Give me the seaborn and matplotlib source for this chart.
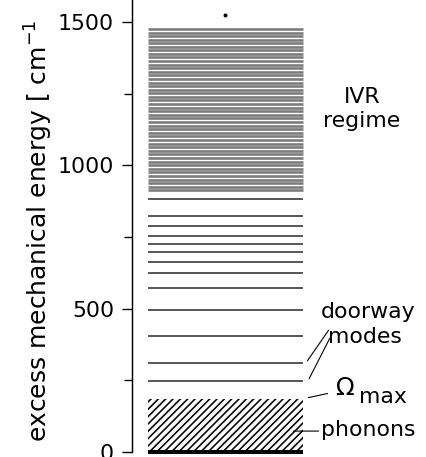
import numpy as np
import pandas as pd
import matplotlib
matplotlib.use("Agg")
import matplotlib.pyplot as plt
import seaborn as sns

# ---- level scheme data (energies in cm^-1) ----
ground_level = [0]
omega_max = 186                      # top of the phonon band
doorway_levels = [248, 311]
discrete_levels = [406, 497, 573, 626, 664, 696, 727, 755, 787, 825, 881]
ivr_levels = [1476, 1463, 1451, 1439, 1427, 1414, 1401, 1389, 1377, 1364,
              1351, 1339, 1327, 1314, 1302, 1289, 1276, 1264, 1252, 1239,
              1227, 1214, 1201, 1189, 1177, 1164, 1151, 1139, 1126, 1114,
              1101, 1089, 1076, 1063, 1051, 1039, 1026, 1013, 1001, 988,
              976, 963, 950, 938, 926, 914]
stray_point = [1524]

major_ticks = [0, 500, 1000, 1500]
major_labels = ["0", "500", "1000", "1500"]
minor_ticks = [250, 750, 1250]

# ---- figure setup ----
DPI = 88
W, H = 426, 457
sns.set_theme(style="white")
plt.rcParams["font.family"] = ["DejaVu Sans"]
plt.rcParams["hatch.linewidth"] = 1.3
plt.rcParams["text.color"] = "black"
plt.rcParams["ytick.color"] = "black"
plt.rcParams["axes.labelcolor"] = "black"

fig = plt.figure(figsize=(W / DPI, H / DPI), dpi=DPI)
ax = fig.add_axes([132 / W, 0, (W - 132) / W, 1])
ax.set_xlim(0, W - 132)
ax.set_ylim(-17.4, 1576.8)

bar_left, bar_right = 16, 171


def level_frame(levels):
    rows = []
    for i, e in enumerate(levels):
        rows.append({"level": i, "x": bar_left, "E": e})
        rows.append({"level": i, "x": bar_right, "E": e})
    return pd.DataFrame(rows)


# dense manifold of IVR states
sns.lineplot(data=level_frame(ivr_levels), x="x", y="E", units="level",
             estimator=None, sort=False, color="#7c7c7c", lw=2.15, ax=ax,
             solid_capstyle="butt")
# isolated vibrational levels
sns.lineplot(data=level_frame(discrete_levels + doorway_levels), x="x", y="E",
             units="level", estimator=None, sort=False, color="#383838",
             lw=1.35, ax=ax, solid_capstyle="butt")
# ground state
sns.lineplot(data=level_frame(ground_level), x="x", y="E", units="level",
             estimator=None, sort=False, color="black", lw=3.3, ax=ax,
             solid_capstyle="butt")

# phonon band (hatched)
ax.bar((bar_left + bar_right) / 2, omega_max, width=bar_right - bar_left,
       bottom=0, fill=False, hatch="////", edgecolor="black", linewidth=0)

ax.scatter([93], stray_point, s=5, color="black", zorder=3)

# ---- annotations ----
fs = 18
ax.text(230, 1217, "IVR", ha="center", va="baseline", fontsize=fs)
ax.text(230, 1134, "regime", ha="center", va="baseline", fontsize=fs)
ax.text(189, 467, "doorway", ha="left", va="baseline", fontsize=fs)
ax.text(196, 380, "modes", ha="left", va="baseline", fontsize=fs)
ax.text(203, 199, "Ω", ha="left", va="baseline", fontsize=fs + 2)
ax.text(227, 171, "max", ha="left", va="baseline", fontsize=fs)
ax.text(189, 56, "phonons", ha="left", va="baseline", fontsize=fs)

line_kw = dict(color="black", lw=0.9)
ax.annotate("", xy=(bar_right + 3, doorway_levels[1]), xytext=(198, 432),
            arrowprops=dict(arrowstyle="-", **line_kw))
ax.annotate("", xy=(bar_right + 5, doorway_levels[0]), xytext=(199, 405),
            arrowprops=dict(arrowstyle="-", **line_kw))
ax.annotate("", xy=(bar_right + 3, omega_max + 2), xytext=(198, 206),
            arrowprops=dict(arrowstyle="-", **line_kw))
ax.annotate("", xy=(bar_right - 12, 73), xytext=(189, 73),
            arrowprops=dict(arrowstyle="-", **line_kw))

# ---- axes styling ----
for side in ["top", "right", "bottom"]:
    ax.spines[side].set_visible(False)
ax.spines["left"].set_color("black")
ax.spines["left"].set_linewidth(1.2)
ax.spines["left"].set_bounds(0, 1576.8)
ax.set_xticks([])
ax.set_yticks(major_ticks)
ax.set_yticklabels(major_labels, fontsize=fs)
ax.set_yticks(minor_ticks, minor=True)
ax.tick_params(axis="y", which="major", direction="out", length=8.2,
               width=1.1, pad=6.5, colors="black", left=True)
ax.tick_params(axis="y", which="minor", direction="out", length=6.5,
               width=1.1, colors="black", left=True)
ax.set_xlabel("")
ax.set_ylabel("")
ax.set_facecolor("white")

fig.text(48 / W, 1 - 442 / H, "excess mechanical energy [ cm$^{-1}$",
         rotation=90, rotation_mode="anchor", ha="left", va="baseline",
         fontsize=20.5)

fig.savefig("out.png", dpi=DPI)
